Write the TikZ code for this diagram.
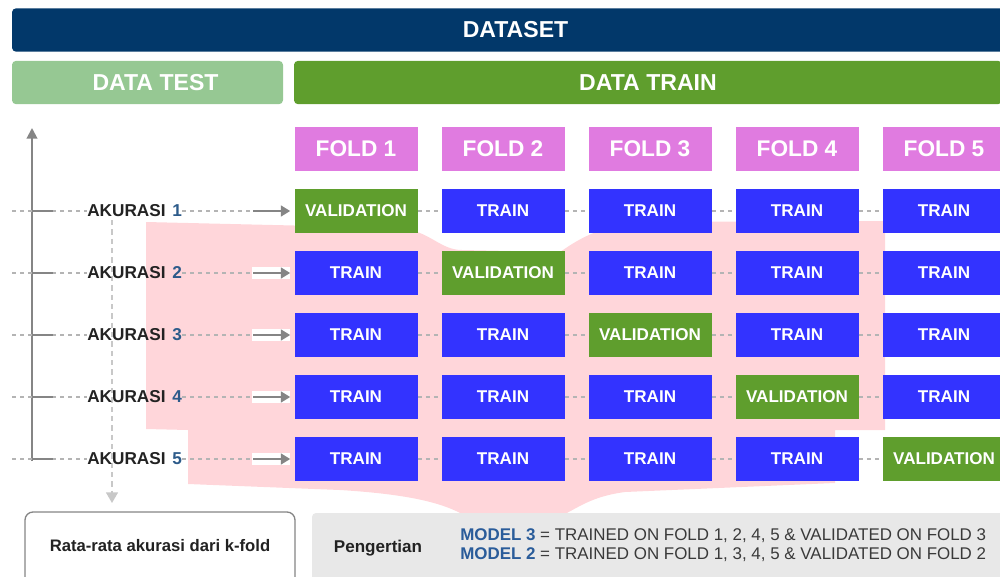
\documentclass[tikz,border=0pt]{standalone}
\usepackage{fontspec}
\setmainfont{Liberation Sans}
\usetikzlibrary{arrows.meta}
\definecolor{navy}{HTML}{02386A}
\definecolor{testgreen}{HTML}{96C893}
\definecolor{traingreen}{HTML}{5F9E2D}
\definecolor{foldpink}{HTML}{E07BE0}
\definecolor{trainblue}{HTML}{3333FF}
\definecolor{pinkbg}{HTML}{FFD6DA}
\definecolor{greybox}{HTML}{E8E8E8}
\definecolor{numblue}{HTML}{2D5B8A}
\definecolor{mblue}{HTML}{2A5C9A}
\definecolor{axisgray}{HTML}{858585}
\definecolor{dashgray}{HTML}{B4B4B4}
\definecolor{vgray}{HTML}{C8C8C8}
\definecolor{txtdark}{HTML}{222222}
\definecolor{txtgray}{HTML}{3A3A3A}
\begin{document}
\begin{tikzpicture}[x=0.75pt,y=-0.75pt,
  bar/.style={fill=#1, rounded corners=3pt, inner sep=0pt, minimum height=32.5pt,
    text=white, font=\fontsize{17.3}{20}\selectfont\bfseries},
  foldbox/.style={fill=foldpink, inner sep=0pt, minimum width=92.25pt, minimum height=33pt,
    text=white, font=\fontsize{17}{20}\selectfont\bfseries},
  cellbox/.style={inner sep=0pt, minimum width=92.25pt, minimum height=33pt,
    text=white, font=\fontsize{12.8}{15}\selectfont\bfseries},
  trainbox/.style={cellbox, fill=trainblue},
  valbox/.style={cellbox, fill=traingreen},
  akr/.style={inner sep=0pt, anchor=west, text=txtdark, font=\fontsize{12.9}{15}\selectfont\bfseries},
  dashline/.style={draw=dashgray, line width=0.8pt, dash pattern=on 3pt off 3pt},
  axisline/.style={draw=axisgray, line width=1.5pt},
  garrow/.style={draw=axisgray, line width=2.2pt, -{Triangle[length=7pt,width=8pt]}, shorten >=3pt},
  vdash/.style={draw=vgray, line width=1pt, dash pattern=on 4pt off 3pt, -{Triangle[length=8pt,width=9pt]}}
]
\useasboundingbox (0,0) rectangle (1000,576);

% pink background blob
\fill[pinkbg] (146,222) -- (400,228) .. controls (430,231) and (440,250) .. (462,250)
  -- (560,252) .. controls (580,238) and (605,223) .. (650,222) -- (885,221) -- (885,430)
  -- (835,430) -- (835,483) -- (625,492) .. controls (595,496) and (582,505) .. (565,514)
  -- (462,514) .. controls (440,502) and (405,494) .. (340,490) -- (188,484)
  -- (188,430) -- (146,429) -- cycle;

% top bars
\node[bar=navy, minimum width=755.25pt] (dataset) at (515.5,30) {DATASET};
\node[bar=testgreen, minimum width=203.25pt] (datatest) at (147.5,82.5) {\hspace{12pt}DATA TEST};
\node[bar=traingreen, minimum width=531pt] (datatrain) at (648,82.5) {DATA TRAIN};

% fold headers
\foreach \c in {1,...,5}{
  \pgfmathsetmacro\cx{356+147*(\c-1)}
  \node[foldbox] (f\c) at (\cx,149) {FOLD \c};
}

% axis
\coordinate (axtop) at (32,128);
\coordinate (axbot) at (32,461);
\draw[axisline, -{Triangle[length=8pt,width=8pt]}] (axbot) -- (axtop);

% vertical dashed arrow
\coordinate (vtop) at (112,220);
\coordinate (vbot) at (112,503);
\draw[vdash] (vtop) -- (vbot);

% rows
\foreach \r in {1,...,5}{
  \pgfmathsetmacro\cy{211+62*(\r-1)}
  \foreach \c in {1,...,5}{
    \pgfmathsetmacro\cx{356+147*(\c-1)}
    \ifnum\r=\c
      \node[valbox] (b\r\c) at (\cx,\cy) {VALIDATION};
    \else
      \node[trainbox] (b\r\c) at (\cx,\cy) {TRAIN};
    \fi
  }
  \foreach \c [evaluate=\c as \d using int(\c+1)] in {1,...,4}{
    \draw[dashline] (b\r\c.east) -- (b\r\d.west);
  }
  \coordinate (l\r) at (12,\cy);
  \coordinate (s\r) at (253,\cy);
  \coordinate (t\r) at (53,\cy);
  \coordinate (k\r) at (32,\cy);
  \node[akr] (a\r) at (87,\cy) {AKURASI\hspace{5pt}\textcolor{numblue}{\r}};
  \draw[dashline] (l\r) -- (a\r.west);
  \draw[dashline] (a\r.east) -- (s\r);
  \draw[axisline] (k\r) -- (t\r);
  \fill[white] (252,\cy-6) rectangle (290,\cy+6);
  \draw[garrow] (s\r) -- (b\r1.west);
}

% bottom boxes
\draw[draw=axisgray, line width=1pt, fill=white, rounded corners=6pt] (25,512) rectangle (295,600);
\node[text=txtdark, font=\fontsize{12.5}{15}\selectfont\bfseries] (rata) at (160,546) {Rata-rata akurasi dari k-fold};
\fill[greybox, rounded corners=3pt] (312,513) rectangle (1010,600);
\node[text=txtdark, font=\fontsize{12.8}{15}\selectfont\bfseries] (peng) at (378,548) {Pengertian};
\node[anchor=west, inner sep=0pt, text=txtgray, font=\fontsize{12.7}{15}\selectfont] (m3) at (460,536)
  {\textcolor{mblue}{\bfseries MODEL 3} = TRAINED ON FOLD 1, 2, 4, 5 \& VALIDATED ON FOLD 3};
\node[anchor=west, inner sep=0pt, text=txtgray, font=\fontsize{12.7}{15}\selectfont] (m2) at (460,555)
  {\textcolor{mblue}{\bfseries MODEL 2} = TRAINED ON FOLD 1, 3, 4, 5 \& VALIDATED ON FOLD 2};
\end{tikzpicture}
\end{document}
